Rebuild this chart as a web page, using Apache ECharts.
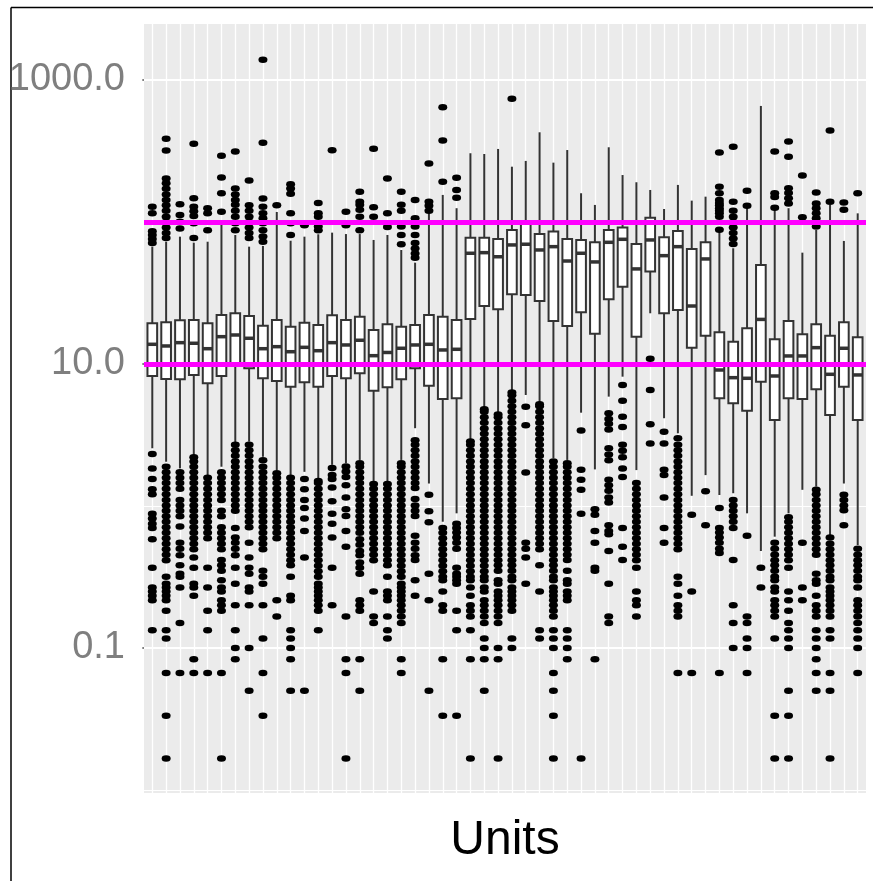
<!DOCTYPE html>
<html>
<head>
<meta charset="utf-8">
<script src="https://cdn.jsdelivr.net/npm/echarts@6/dist/echarts.min.js"></script>
<style>
  html, body { margin: 0; padding: 0; background: #fff; }
  #chart { width: 873px; height: 881px; }
</style>
</head>
<body>
<div id="chart"></div>
<script>
// ---------- data ----------
const units = Array.from({ length: 52 }, (_, i) => 'Unit ' + (i + 1));

const whiskerLow = [2.55, 2.05, 1.84, 2.29, 1.65, 1.89, 2.76, 2.84, 2.22, 1.79, 1.65, 1.74, 1.57, 1.95, 2.0, 2.11, 1.48, 1.48, 2.11, 3.53, 1.44, 0.775, 0.888, 2.92, 4.88, 4.50, 6.38, 6.05, 5.29, 2.17, 2.11, 4.54, 1.81, 5.89, 8.14, 1.79, 22.75, 4.15, 3.25, 1.18, 1.65, 1.195, 1.23, 0.888, 0.482, 0.608, 0.888, 1.30, 1.37, 0.625, 1.44, 0.531];
const q1 = [8.23, 7.84, 7.80, 8.37, 7.31, 8.23, 9.84, 9.33, 7.93, 7.59, 6.92, 7.43, 6.92, 8.23, 7.93, 8.60, 6.48, 6.85, 7.80, 9.33, 7.03, 5.67, 5.73, 20.75, 25.6, 24.3, 30.96, 30.6, 27.8, 20.1, 18.5, 23.1, 16.3, 28.6, 35.0, 15.57, 44.7, 22.75, 24.0, 13.03, 15.8, 5.73, 5.29, 4.69, 7.50, 4.03, 5.73, 5.67, 6.64, 4.38, 6.92, 4.03];
const median = [13.76, 13.39, 14.13, 13.99, 12.81, 15.57, 16.0, 15.17, 12.81, 13.24, 12.2, 13.1, 12.4, 14.13, 13.61, 14.69, 11.44, 12.05, 12.9, 13.61, 13.76, 12.55, 12.69, 60.2, 60.8, 56.9, 68.9, 69.7, 63.5, 67.0, 53.1, 60.2, 52.3, 71.9, 75.5, 46.7, 74.7, 57.9, 67.0, 25.6, 54.9, 9.07, 8.01, 7.93, 20.6, 8.23, 11.39, 11.39, 13.03, 8.46, 12.9, 8.37];
const q3 = [19.35, 19.67, 20.3, 20.4, 19.35, 22.1, 22.75, 21.8, 18.6, 20.4, 18.3, 19.5, 18.8, 22.0, 20.4, 21.5, 17.35, 19.04, 18.3, 18.8, 22.1, 21.5, 20.4, 77.5, 77.5, 75.9, 87.8, 97.9, 82.3, 85.5, 75.9, 74.7, 71.9, 87.8, 91.5, 70.0, 107.2, 78.0, 86.4, 64.6, 71.9, 16.7, 14.36, 17.84, 49.8, 14.93, 20.1, 16.19, 19.04, 15.8, 19.67, 15.42];
const whiskerHigh = [67.0, 72.6, 78.8, 71.5, 72.6, 95.2, 81.0, 67.0, 67.8, 117.6, 73.8, 78.8, 81.9, 84.1, 82.2, 82.2, 74.7, 81.0, 63.5, 51.7, 115, 155, 125, 304.7, 301, 326.6, 245, 269, 428, 261.6, 321, 159.3, 131.8, 335.7, 214, 190.4, 168, 123.4, 182.3, 141.3, 150.7, 85.5, 65.3, 128.2, 656, 125, 125, 60.8, 87.8, 131.8, 73.5, 115];

const outliers = [
  [128, 115, 86, 81, 76, 71, 2.32, 1.84, 1.55, 1.31, 1.21, 0.883, 0.817, 0.75, 0.7, 0.583, 0.367, 0.267, 0.25, 0.233, 0.217, 0.1333],
  [386, 318, 202, 187, 171, 156, 143, 131, 120, 109, 100, 91.5, 83.7, 77, 1.89, 1.73, 1.58, 1.45, 1.32, 1.21, 1.1, 1.01, 0.926, 0.847, 0.775, 0.708, 0.648, 0.593, 0.542, 0.496, 0.454, 0.415, 0.317, 0.283, 0.267, 0.25, 0.233, 0.217, 0.1833, 0.1333, 0.1167, 0.0667, 0.0333, 0.0167],
  [133, 112, 100.5, 90, 1.73, 1.58, 1.45, 1.32, 1.1, 1.01, 0.926, 0.847, 0.717, 0.55, 0.5, 0.45, 0.383, 0.333, 0.317, 0.267, 0.15, 0.0667],
  [356, 147, 128, 119, 110, 98, 77, 2.2, 2.06, 1.89, 1.73, 1.58, 1.45, 1.32, 1.21, 1.1, 1.01, 0.926, 0.847, 0.775, 0.708, 0.648, 0.593, 0.542, 0.496, 0.433, 0.367, 0.283, 0.267, 0.233, 0.0833, 0.0667],
  [125, 115, 87.5, 1.58, 1.45, 1.32, 1.21, 1.1, 1.01, 0.926, 0.847, 0.775, 0.708, 0.648, 0.593, 0.367, 0.267, 0.1833, 0.1333, 0.0667],
  [293, 206, 159, 118, 1.73, 1.58, 1.45, 1.32, 1.21, 1.1, 0.926, 0.847, 0.708, 0.648, 0.593, 0.542, 0.496, 0.417, 0.383, 0.35, 0.3, 0.267, 0.25, 0.217, 0.2, 0.1833, 0.0667, 0.0167],
  [313, 172, 156, 143, 132, 120, 109, 98, 87.5, 2.7, 2.47, 2.26, 2.06, 1.89, 1.73, 1.58, 1.45, 1.32, 1.21, 1.1, 1.01, 0.926, 0.7, 0.6, 0.55, 0.5, 0.45, 0.367, 0.283, 0.2, 0.1333, 0.1, 0.0833],
  [196, 131, 120, 109, 100, 91.5, 83.7, 77, 2.7, 2.47, 2.26, 2.06, 1.89, 1.73, 1.58, 1.45, 1.32, 1.21, 1.1, 1.01, 0.926, 0.847, 0.775, 0.708, 0.55, 0.433, 0.367, 0.333, 0.267, 0.25, 0.2, 0.1, 0.05],
  [1390, 361, 146, 128, 115, 106, 98, 87.5, 79, 72.6, 2.1, 1.89, 1.73, 1.58, 1.45, 1.32, 1.21, 1.1, 1.01, 0.926, 0.847, 0.775, 0.708, 0.648, 0.593, 0.542, 0.496, 0.35, 0.317, 0.283, 0.2, 0.1167, 0.0667, 0.0333],
  [131, 1.7, 1.58, 1.45, 1.32, 1.21, 1.1, 1.01, 0.926, 0.847, 0.775, 0.708, 0.648, 0.593, 0.217, 0.1667],
  [184, 172, 158, 115, 98, 81, 1.58, 1.45, 1.32, 1.21, 1.1, 1.01, 0.926, 0.847, 0.775, 0.708, 0.648, 0.593, 0.542, 0.496, 0.454, 0.415, 0.383, 0.317, 0.233, 0.217, 0.1333, 0.1167, 0.1, 0.0833, 0.05],
  [95, 1.55, 1.31, 1.1, 0.967, 0.817, 0.667, 0.433, 0.05],
  [136, 115, 109, 93, 87.5, 1.5, 1.45, 1.32, 1.21, 1.1, 1.01, 0.926, 0.847, 0.775, 0.708, 0.648, 0.593, 0.542, 0.496, 0.454, 0.415, 0.38, 0.347, 0.317, 0.283, 0.267, 0.25, 0.233, 0.217, 0.2, 0.1833, 0.1333],
  [320, 1.85, 1.65, 1.55, 1.35, 1.08, 0.883, 0.75, 0.6, 0.367, 0.2],
  [118, 95, 1.9, 1.75, 1.6, 1.4, 1.15, 0.95, 0.85, 0.667, 0.517, 0.1667, 0.0833, 0.0667, 0.0167],
  [163, 139, 132, 122, 109, 87.5, 2.0, 1.89, 1.73, 1.58, 1.45, 1.32, 1.21, 1.1, 1.01, 0.926, 0.847, 0.775, 0.708, 0.648, 0.583, 0.533, 0.483, 0.45, 0.4, 0.367, 0.333, 0.217, 0.2, 0.1833, 0.0833, 0.05],
  [328, 127, 109, 1.43, 1.32, 1.21, 1.1, 1.01, 0.926, 0.847, 0.775, 0.708, 0.648, 0.593, 0.542, 0.496, 0.454, 0.415, 0.25, 0.1667, 0.15],
  [202, 115, 92, 1.43, 1.32, 1.21, 1.1, 1.01, 0.926, 0.847, 0.775, 0.708, 0.648, 0.593, 0.542, 0.496, 0.454, 0.415, 0.383, 0.317, 0.25, 0.233, 0.217, 0.1667, 0.1333, 0.1167],
  [163, 132, 120, 93, 81, 69.7, 2.0, 1.89, 1.73, 1.58, 1.45, 1.32, 1.21, 1.1, 1.01, 0.926, 0.847, 0.775, 0.708, 0.648, 0.593, 0.542, 0.496, 0.454, 0.415, 0.38, 0.347, 0.317, 0.283, 0.267, 0.25, 0.233, 0.217, 0.2, 0.1833, 0.1667, 0.15, 0.0833, 0.0667],
  [143, 106, 93, 81, 71, 65, 60, 56, 2.9, 2.7, 2.47, 2.26, 2.06, 1.89, 1.73, 1.58, 1.45, 1.34, 1.12, 1.01, 0.926, 0.85, 0.617, 0.55, 0.5, 0.45, 0.417, 0.3, 0.233],
  [258, 139, 130, 120, 1.2, 0.917, 0.767, 0.333, 0.217, 0.05],
  [643, 374, 192, 0.7, 0.648, 0.593, 0.542, 0.496, 0.454, 0.415, 0.38, 0.347, 0.317, 0.3, 0.25, 0.2, 0.1833, 0.0833, 0.0333],
  [205, 168, 148, 0.75, 0.7, 0.65, 0.6, 0.55, 0.5, 0.367, 0.333, 0.317, 0.3, 0.283, 0.1833, 0.1333, 0.0333],
  [2.85, 2.7, 2.47, 2.26, 2.06, 1.89, 1.73, 1.58, 1.45, 1.32, 1.21, 1.1, 1.01, 0.926, 0.847, 0.775, 0.708, 0.648, 0.593, 0.542, 0.496, 0.454, 0.415, 0.38, 0.347, 0.317, 0.3, 0.267, 0.233, 0.2, 0.1833, 0.1667, 0.1333, 0.0833, 0.0167],
  [4.8, 4.6, 4.21, 3.85, 3.52, 3.22, 2.95, 2.7, 2.47, 2.26, 2.06, 1.89, 1.73, 1.58, 1.45, 1.32, 1.21, 1.1, 1.01, 0.926, 0.847, 0.775, 0.708, 0.648, 0.593, 0.542, 0.496, 0.454, 0.415, 0.38, 0.347, 0.317, 0.3, 0.267, 0.25, 0.217, 0.2, 0.1833, 0.1667, 0.15, 0.1167, 0.1, 0.0833, 0.05],
  [4.4, 4.21, 3.85, 3.52, 3.22, 2.95, 2.7, 2.47, 2.26, 2.06, 1.89, 1.73, 1.58, 1.45, 1.32, 1.21, 1.1, 1.01, 0.926, 0.847, 0.775, 0.708, 0.648, 0.593, 0.542, 0.496, 0.454, 0.415, 0.383, 0.35, 0.3, 0.283, 0.25, 0.233, 0.217, 0.2, 0.1833, 0.1667, 0.15, 0.1, 0.0833, 0.0167],
  [738, 6.3, 6.02, 5.5, 5.03, 4.6, 4.21, 3.85, 3.52, 3.22, 2.95, 2.7, 2.47, 2.26, 2.06, 1.89, 1.73, 1.58, 1.45, 1.32, 1.21, 1.1, 1.01, 0.926, 0.847, 0.775, 0.708, 0.648, 0.593, 0.542, 0.496, 0.454, 0.415, 0.383, 0.35, 0.317, 0.3, 0.267, 0.25, 0.233, 0.217, 0.2, 0.1833, 0.1167, 0.1],
  [5.0, 3.7, 1.72, 0.55, 0.5, 0.433, 0.283],
  [5.2, 5.03, 4.6, 4.21, 3.85, 3.52, 3.22, 2.95, 2.7, 2.47, 2.26, 2.06, 1.89, 1.73, 1.58, 1.45, 1.32, 1.21, 1.1, 1.01, 0.926, 0.847, 0.775, 0.708, 0.648, 0.593, 0.542, 0.496, 0.383, 0.25, 0.1333, 0.1167],
  [2.06, 1.89, 1.73, 1.58, 1.45, 1.32, 1.21, 1.1, 1.01, 0.926, 0.847, 0.775, 0.708, 0.648, 0.593, 0.542, 0.496, 0.454, 0.415, 0.383, 0.35, 0.317, 0.3, 0.267, 0.25, 0.233, 0.217, 0.2, 0.1833, 0.1667, 0.1333, 0.1167, 0.1, 0.0667, 0.05, 0.0333, 0.0167],
  [2.0, 1.89, 1.73, 1.58, 1.45, 1.32, 1.21, 1.1, 1.01, 0.926, 0.847, 0.775, 0.708, 0.648, 0.593, 0.542, 0.496, 0.454, 0.417, 0.35, 0.3, 0.283, 0.25, 0.233, 0.217, 0.1333, 0.1167, 0.1, 0.0833],
  [3.4, 1.8, 1.53, 1.3, 0.883, 0.0167],
  [0.95, 0.867, 0.667, 0.55, 0.367, 0.35, 0.0833],
  [4.5, 4.1, 3.8, 3.45, 2.55, 2.3, 2.1, 1.53, 1.4, 1.28, 1.15, 1.06, 0.733, 0.667, 0.633, 0.483, 0.283, 0.1667, 0.15],
  [7.1, 5.5, 4.25, 3.6, 2.7, 2.45, 2.2, 1.84, 1.6, 0.7, 0.517, 0.417],
  [1.45, 1.32, 1.21, 1.1, 1.01, 0.926, 0.847, 0.775, 0.708, 0.648, 0.593, 0.542, 0.496, 0.454, 0.415, 0.367, 0.25, 0.217, 0.2, 0.1667],
  [10.9, 6.56, 3.76, 2.76],
  [3.33, 2.75, 1.8, 1.65, 1.15, 0.7, 0.55],
  [3.0, 2.7, 2.47, 2.26, 2.06, 1.89, 1.73, 1.58, 1.45, 1.32, 1.21, 1.1, 1.01, 0.926, 0.847, 0.775, 0.708, 0.648, 0.593, 0.542, 0.496, 0.317, 0.283, 0.233, 0.2, 0.1833, 0.1667, 0.0667],
  [0.867, 0.25, 0.0667],
  [1.27, 0.733],
  [308, 177, 159, 143, 136, 131, 125, 120, 115, 109, 88, 0.967, 0.7, 0.65, 0.6, 0.55, 0.5, 0.467, 0.0667],
  [339, 139, 120, 109, 100, 91.5, 83.7, 76.5, 70, 1.1, 1.01, 0.926, 0.847, 0.775, 0.7, 0.417, 0.2, 0.15, 0.1],
  [166, 130, 0.617, 0.1667, 0.15, 0.1167, 0.1, 0.0667],
  [0.367, 0.267],
  [313, 159, 150, 126, 0.55, 0.5, 0.454, 0.415, 0.383, 0.35, 0.317, 0.3, 0.267, 0.25, 0.217, 0.2, 0.1833, 0.1667, 0.1167, 0.0333, 0.0167],
  [368, 288, 173, 160, 147, 135, 0.833, 0.775, 0.708, 0.648, 0.593, 0.542, 0.496, 0.454, 0.415, 0.367, 0.25, 0.217, 0.1833, 0.15, 0.1333, 0.1167, 0.1, 0.05, 0.0333, 0.0167],
  [212, 108, 0.55, 0.267, 0.217],
  [161, 135, 125, 115, 106, 98, 93, 1.3, 1.21, 1.1, 1.01, 0.926, 0.847, 0.775, 0.708, 0.648, 0.593, 0.542, 0.496, 0.454, 0.333, 0.3, 0.283, 0.233, 0.2, 0.1833, 0.1667, 0.1333, 0.1167, 0.1, 0.0833, 0.0667, 0.05],
  [440, 139, 0.6, 0.542, 0.496, 0.454, 0.415, 0.383, 0.35, 0.317, 0.3, 0.267, 0.25, 0.233, 0.217, 0.2, 0.1833, 0.1667, 0.1333, 0.1167, 0.0667, 0.05, 0.0167],
  [137, 122, 1.2, 1.1, 1.01, 0.933, 0.733],
  [159, 0.5, 0.454, 0.415, 0.383, 0.35, 0.317, 0.3, 0.267, 0.217, 0.2, 0.1833, 0.1667, 0.15, 0.1333, 0.1167, 0.1, 0.0667]
];

const thresholds = [10, 100];
const yTicks = [0.1, 10, 1000];
const yMinorGrid = [0.01, 1, 100];
const yRange = [0.00953, 2477];

// ---------- build ----------
const boxData = units.map((u, i) => [i, whiskerLow[i], q1[i], median[i], q3[i], whiskerHigh[i]]);
const outlierData = [];
outliers.forEach((list, i) => list.forEach(v => outlierData.push([i, v])));

const chart = echarts.init(document.getElementById('chart'), null, { renderer: 'canvas' });
const FONT = 'Liberation Sans, Arial, Helvetica, sans-serif';

function renderBox(params, api) {
  const x = api.value(0);
  const lo = api.coord([x, api.value(1)]);
  const b1 = api.coord([x, api.value(2)]);
  const md = api.coord([x, api.value(3)]);
  const b3 = api.coord([x, api.value(4)]);
  const hi = api.coord([x, api.value(5)]);
  const bw = api.size([1, 0], [x, 10])[0] * 0.7;
  const stroke = '#333333';
  return {
    type: 'group',
    children: [
      { type: 'line', shape: { x1: lo[0], y1: lo[1], x2: b1[0], y2: b1[1] }, style: { stroke, lineWidth: 2 } },
      { type: 'line', shape: { x1: b3[0], y1: b3[1], x2: hi[0], y2: hi[1] }, style: { stroke, lineWidth: 2 } },
      { type: 'rect', shape: { x: b1[0] - bw / 2, y: b3[1], width: bw, height: b1[1] - b3[1] }, style: { fill: '#ffffff', stroke, lineWidth: 2 } },
      { type: 'line', shape: { x1: md[0] - bw / 2, y1: md[1], x2: md[0] + bw / 2, y2: md[1] }, style: { stroke, lineWidth: 3.5 } }
    ]
  };
}

const gridLines = []
  .concat(units.map((u, i) => ({ xAxis: i, lineStyle: { width: 1.3 } })))
  .concat(yTicks.map(v => ({ yAxis: v, lineStyle: { width: 2 } })))
  .concat(yMinorGrid.map(v => ({ yAxis: v, lineStyle: { width: 1 } })));

const option = {
  animation: false,
  backgroundColor: '#ffffff',
  grid: {
    left: 144, top: 24, width: 722, height: 769,
    show: true, backgroundColor: '#EBEBEB', borderWidth: 0
  },
  xAxis: {
    type: 'value', min: -0.6, max: units.length - 0.4,
    axisLine: { show: false }, axisTick: { show: false },
    axisLabel: { show: false }, splitLine: { show: false },
    name: 'Units', nameLocation: 'middle', nameGap: 24,
    nameTextStyle: { fontSize: 48, color: '#000000', fontFamily: FONT }
  },
  yAxis: {
    type: 'log', logBase: 10, min: yRange[0], max: yRange[1],
    axisLine: { show: false },
    axisTick: { show: true, length: 10, customValues: yTicks, lineStyle: { color: '#7F7F7F', width: 2 } },
    axisLabel: {
      customValues: yTicks, margin: 19, fontSize: 38, color: '#7F7F7F', fontFamily: FONT,
      formatter: v => Number(v).toFixed(1)
    },
    splitLine: { show: false }, minorSplitLine: { show: false }
  },
  graphic: [
    { type: 'line', shape: { x1: 11, y1: 7.5, x2: 873, y2: 7.5 }, style: { stroke: '#000', lineWidth: 1.5 }, silent: true },
    { type: 'line', shape: { x1: 11, y1: 7.5, x2: 11, y2: 881 }, style: { stroke: '#000', lineWidth: 1.5 }, silent: true }
  ],
  series: [
    {
      type: 'scatter', name: 'grid', data: [], silent: true, z: 1,
      markLine: {
        silent: true, z: 1, symbol: ['none', 'none'], label: { show: false },
        lineStyle: { color: '#FFFFFF', type: 'solid', width: 1 },
        emphasis: { disabled: true },
        data: gridLines
      }
    },
    {
      type: 'custom', name: 'boxes', renderItem: renderBox, data: boxData, z: 2,
      encode: { x: 0, y: [1, 2, 3, 4, 5] }, silent: true
    },
    {
      type: 'scatter', name: 'outliers', data: outlierData, z: 3,
      symbol: 'circle', symbolSize: [9, 6.5],
      itemStyle: { color: '#000000', opacity: 1 }, silent: true,
      markLine: {
        silent: true, z: 4, symbol: ['none', 'none'], label: { show: false },
        lineStyle: { color: '#FF00FF', type: 'solid', width: 5 },
        emphasis: { disabled: true },
        data: thresholds.map(v => ({ yAxis: v }))
      }
    }
  ]
};
chart.setOption(option);
</script>
</body>
</html>
